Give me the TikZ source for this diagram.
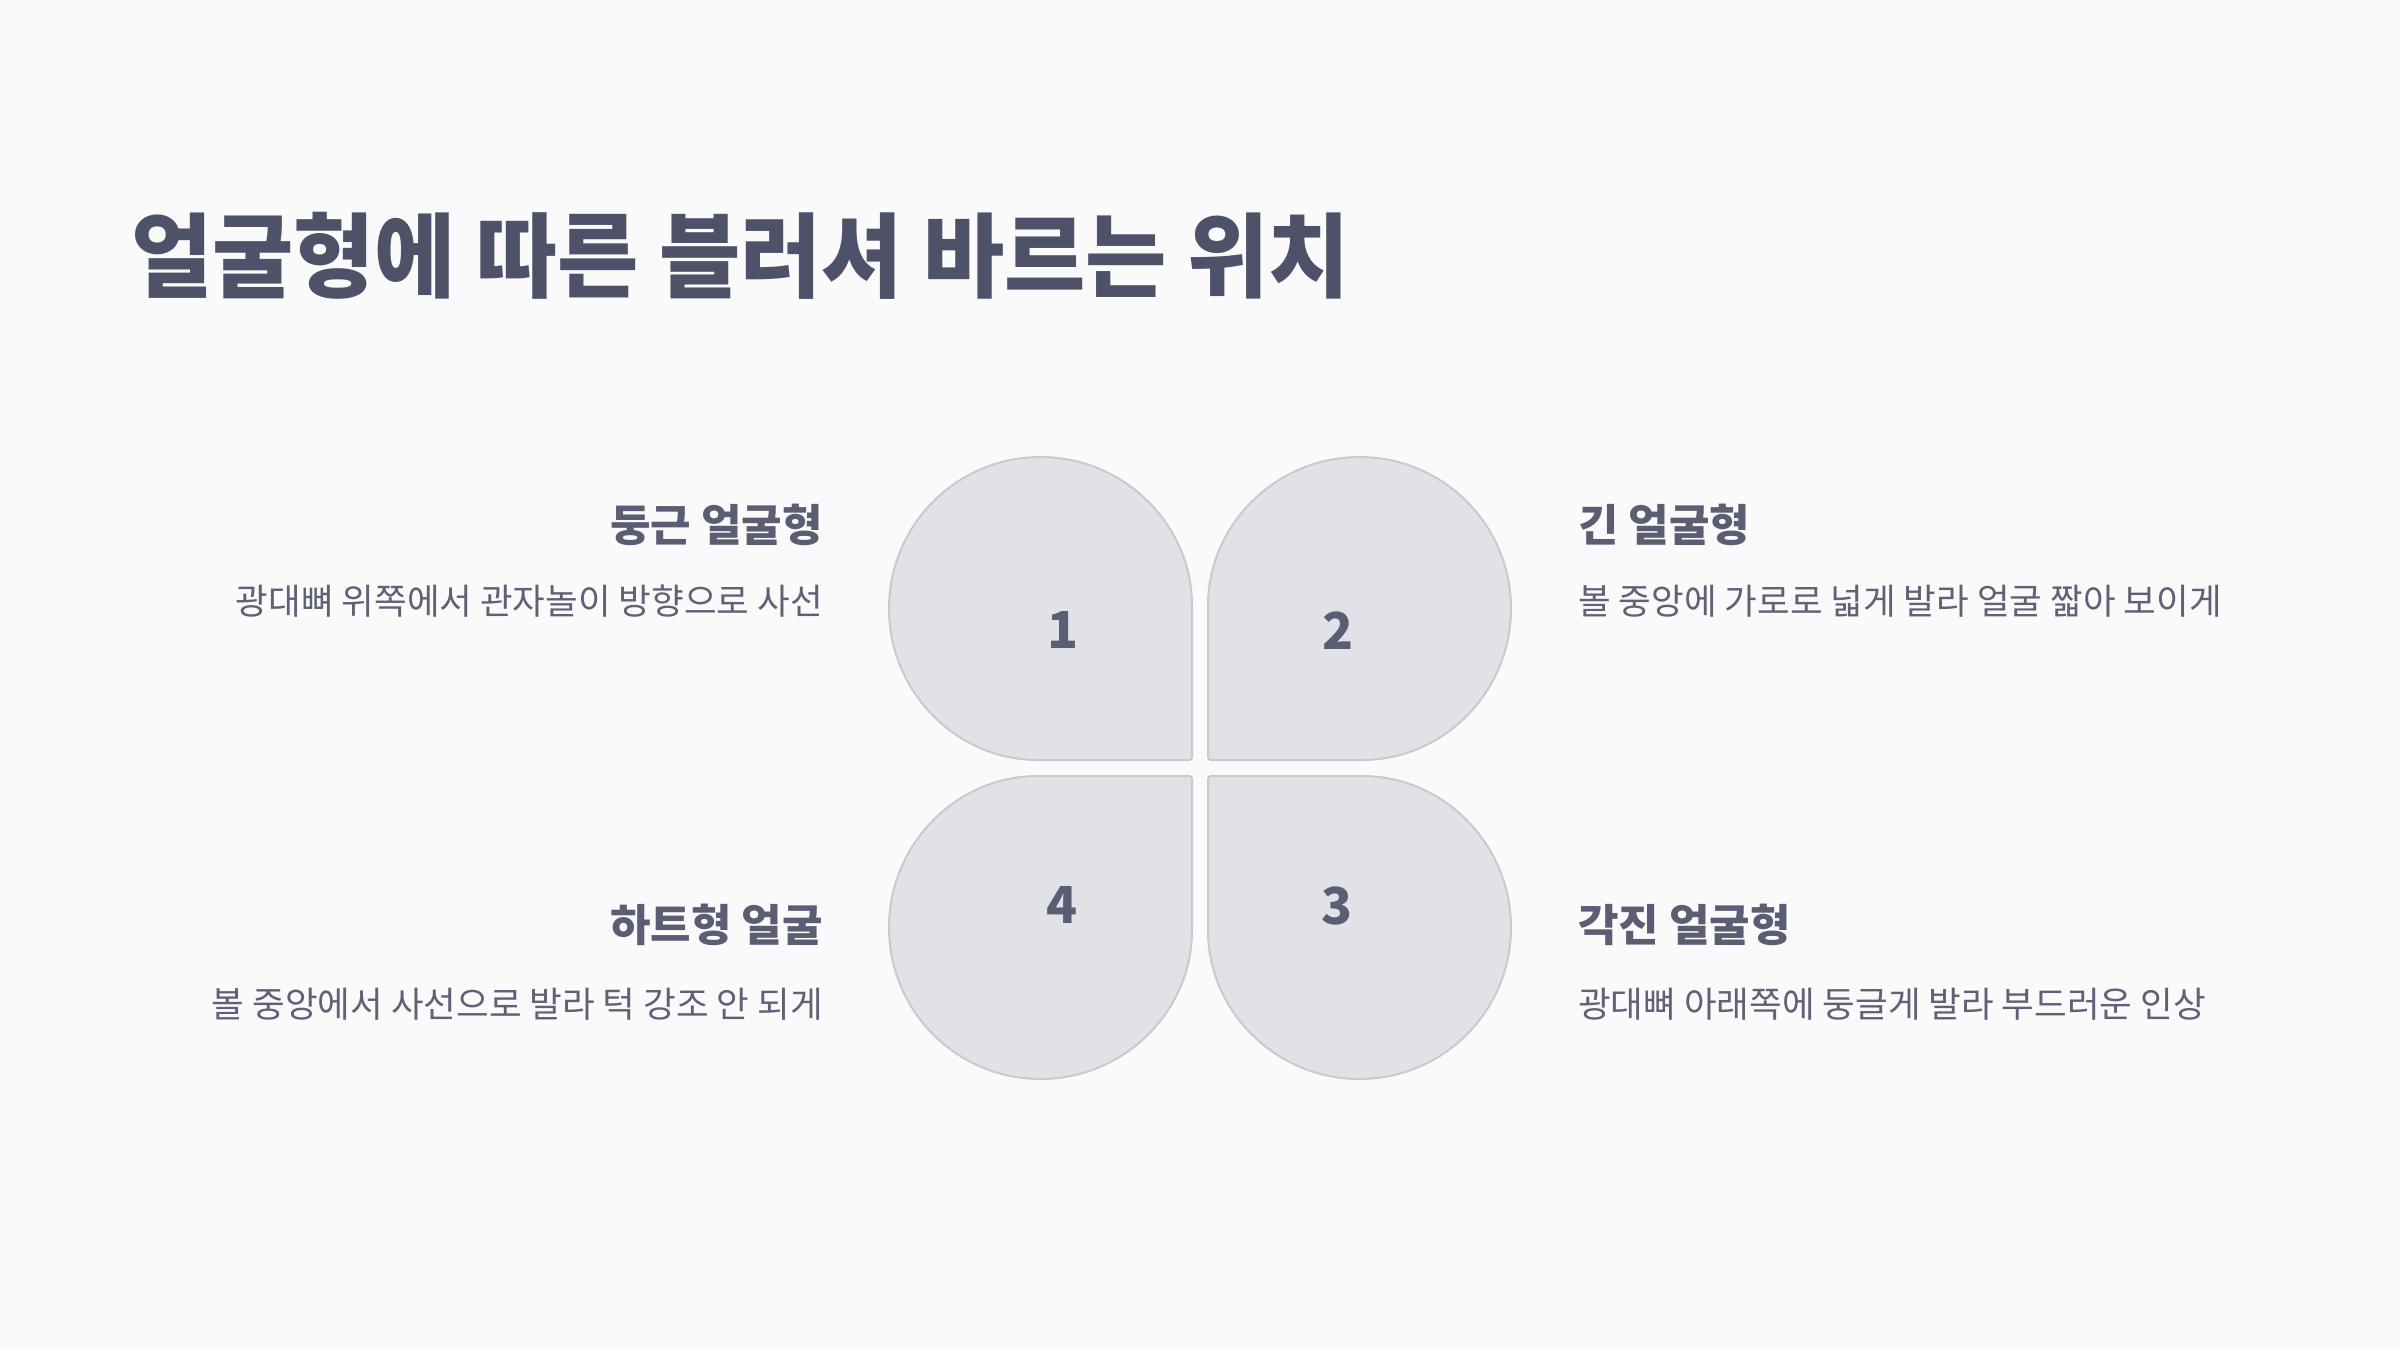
\documentclass[tikz,border=0pt]{standalone}
\usepackage{fontspec}
\usetikzlibrary{positioning}

\newfontfamily\kofont{Noto Sans CJK KR}
\newfontfamily\titlefont{Noto Sans CJK KR}[FakeStretch=0.96]

\definecolor{bgcol}{HTML}{FAFAFB}
\definecolor{titlecol}{HTML}{4E5268}
\definecolor{headcol}{HTML}{5B5E72}
\definecolor{desccol}{HTML}{5F6276}
\definecolor{petalfill}{HTML}{E1E2E7}
\definecolor{petalline}{HTML}{C9CAD1}

\tikzset{
  petal/.style={fill=petalfill, draw=petalline, line width=2pt, rounded corners=3pt},
  num/.style={font=\kofont\bfseries\fontsize{51}{60}\selectfont, text=headcol, inner sep=0pt},
  maintitle/.style={font=\titlefont\bfseries\fontsize{92}{110}\selectfont, text=titlecol, inner sep=0pt},
  head/.style={font=\kofont\bfseries\fontsize{44}{52}\selectfont, text=headcol, inner sep=0pt},
  desc/.style={font=\kofont\fontsize{35.5}{42}\selectfont, text=desccol, inner sep=0pt}
}

\begin{document}
\begin{tikzpicture}[x=1pt, y=-1pt]
  \fill[bgcol] (0,0) rectangle (2400,1350);
  \useasboundingbox (0,0) rectangle (2400,1350);

  \node[maintitle, anchor=west] (title) at (131,256) {얼굴형에 따른 블러셔 바르는 위치};

  % four petals round the centre
  \def\gap{8}
  \def\rr{151.5}
  \begin{scope}[shift={(1200,768)}, y=1pt]
    \foreach \ang/\num in {0/1, -90/2, 180/3, 90/4} {
      \begin{scope}[rotate=\ang]
        \draw[petal] (-\gap,\gap) -- (-\gap,\gap+\rr)
          arc[start angle=0, end angle=270, radius=\rr] -- cycle;
        \node[num] (n\num) at (-137,138) {\num};
      \end{scope}
    }
  \end{scope}

  % left side
  \node[head, anchor=east] (round) at (823,525) {둥근 얼굴형};
  \node[desc, anchor=east] (rounddesc) at (823,601) {광대뼈 위쪽에서 관자놀이 방향으로 사선};
  \node[head, anchor=east] (heart) at (823,925) {하트형 얼굴};
  \node[desc, anchor=east] (heartdesc) at (823,1004) {볼 중앙에서 사선으로 발라 턱 강조 안 되게};

  % right side
  \node[head, anchor=west] (long) at (1578,525) {긴 얼굴형};
  \node[desc, anchor=west] (longdesc) at (1578,601) {볼 중앙에 가로로 넓게 발라 얼굴 짧아 보이게};
  \node[head, anchor=west] (square) at (1578,925) {각진 얼굴형};
  \node[desc, anchor=west] (squaredesc) at (1578,1004) {광대뼈 아래쪽에 둥글게 발라 부드러운 인상};
\end{tikzpicture}
\end{document}
